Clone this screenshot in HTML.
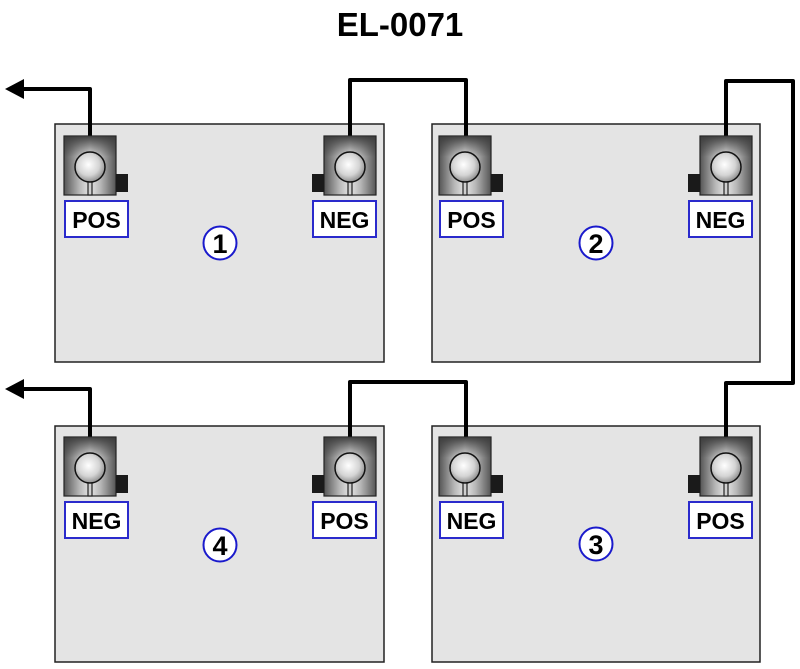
<!DOCTYPE html>
<html><head><meta charset="utf-8"><style>
html,body{margin:0;padding:0;background:#fff;}
svg{display:block;}
text{font-family:"Liberation Sans",Arial,sans-serif;font-weight:bold;}
</style></head><body>
<svg width="800" height="669" viewBox="0 0 800 669" xmlns="http://www.w3.org/2000/svg">
<defs>
<linearGradient id="hg" x1="0" y1="0" x2="1" y2="0">
<stop offset="0" stop-color="#555"/>
<stop offset="0.3" stop-color="#b8b8b8"/>
<stop offset="0.5" stop-color="#e6e6e6"/>
<stop offset="0.7" stop-color="#b8b8b8"/>
<stop offset="1" stop-color="#555"/>
</linearGradient>
<linearGradient id="vg" x1="0" y1="0" x2="0" y2="1">
<stop offset="0" stop-color="#3c3c3c" stop-opacity="0.95"/>
<stop offset="0.35" stop-color="#3c3c3c" stop-opacity="0"/>
<stop offset="1" stop-color="#3c3c3c" stop-opacity="0"/>
</linearGradient>
<radialGradient id="rg" cx="0.45" cy="0.42" r="0.6">
<stop offset="0" stop-color="#ffffff"/>
<stop offset="0.6" stop-color="#d4d4d4"/>
<stop offset="1" stop-color="#8a8a8a"/>
</radialGradient>
<g id="blk">
<rect x="0" y="0" width="52" height="59" fill="url(#hg)" stroke="#222" stroke-width="1.2"/>
<rect x="0.6" y="0.6" width="50.8" height="57.8" fill="url(#vg)"/>
<rect x="24" y="44" width="4" height="15" fill="#d0d0d0" stroke="#222" stroke-width="1.2"/>
<circle cx="26" cy="31" r="15" fill="url(#rg)" stroke="#111" stroke-width="1.5"/>
</g>
</defs>

<text x="400" y="36" font-size="33" text-anchor="middle" fill="#000">EL-0071</text>

<!-- boxes -->
<g fill="#e4e4e4" stroke="#222" stroke-width="1.5">
<rect x="55" y="124" width="329" height="238"/>
<rect x="432" y="124" width="328" height="238"/>
<rect x="55" y="426" width="329" height="236"/>
<rect x="432" y="426" width="328" height="236"/>
</g>

<!-- wires -->
<g fill="none" stroke="#000" stroke-width="4" stroke-linejoin="round">
<path d="M90,137 V89 H20"/>
<path d="M350,137 V80 H466 V137"/>
<path d="M726,137 V81 H793 V383 H726 V438"/>
<path d="M90,438 V389 H20"/>
<path d="M350,438 V382 H466 V438"/>
</g>
<polygon points="5,89 24,79 24,99" fill="#000"/>
<polygon points="5,389 24,379 24,399" fill="#000"/>

<!-- terminals: square on right -->
<g>
<use href="#blk" x="64" y="136"/><rect x="116" y="174" width="12" height="18" fill="#1a1a1a"/>
<use href="#blk" x="439" y="136"/><rect x="491" y="174" width="12" height="18" fill="#1a1a1a"/>
<use href="#blk" x="64" y="437"/><rect x="116" y="475" width="12" height="18" fill="#1a1a1a"/>
<use href="#blk" x="439" y="437"/><rect x="491" y="475" width="12" height="18" fill="#1a1a1a"/>
<!-- square on left -->
<use href="#blk" x="324" y="136"/><rect x="312" y="174" width="12" height="18" fill="#1a1a1a"/>
<use href="#blk" x="700" y="136"/><rect x="688" y="174" width="12" height="18" fill="#1a1a1a"/>
<use href="#blk" x="324" y="437"/><rect x="312" y="475" width="12" height="18" fill="#1a1a1a"/>
<use href="#blk" x="700" y="437"/><rect x="688" y="475" width="12" height="18" fill="#1a1a1a"/>
</g>

<!-- labels -->
<g fill="#fff" stroke="#2a2acc" stroke-width="2">
<rect x="65" y="201" width="63" height="36"/>
<rect x="313" y="201" width="63" height="36"/>
<rect x="440" y="201" width="63" height="36"/>
<rect x="689" y="201" width="63" height="36"/>
<rect x="65" y="502" width="63" height="36"/>
<rect x="313" y="502" width="63" height="36"/>
<rect x="440" y="502" width="63" height="36"/>
<rect x="689" y="502" width="63" height="36"/>
</g>
<g font-size="23" text-anchor="middle" fill="#000">
<text x="96.5" y="228">POS</text>
<text x="344.5" y="228">NEG</text>
<text x="471.5" y="228">POS</text>
<text x="720.5" y="228">NEG</text>
<text x="96.5" y="529">NEG</text>
<text x="344.5" y="529">POS</text>
<text x="471.5" y="529">NEG</text>
<text x="720.5" y="529">POS</text>
</g>

<!-- numbers -->
<g fill="#fff" stroke="#1a1acc" stroke-width="2">
<circle cx="220" cy="243" r="16.5"/>
<circle cx="596" cy="243" r="16.5"/>
<circle cx="220" cy="545" r="16.5"/>
<circle cx="596" cy="544" r="16.5"/>
</g>
<g font-size="27" text-anchor="middle" fill="#000">
<text x="220" y="253">1</text>
<text x="596" y="253">2</text>
<text x="220" y="555">4</text>
<text x="596" y="554">3</text>
</g>
</svg>
</body></html>
